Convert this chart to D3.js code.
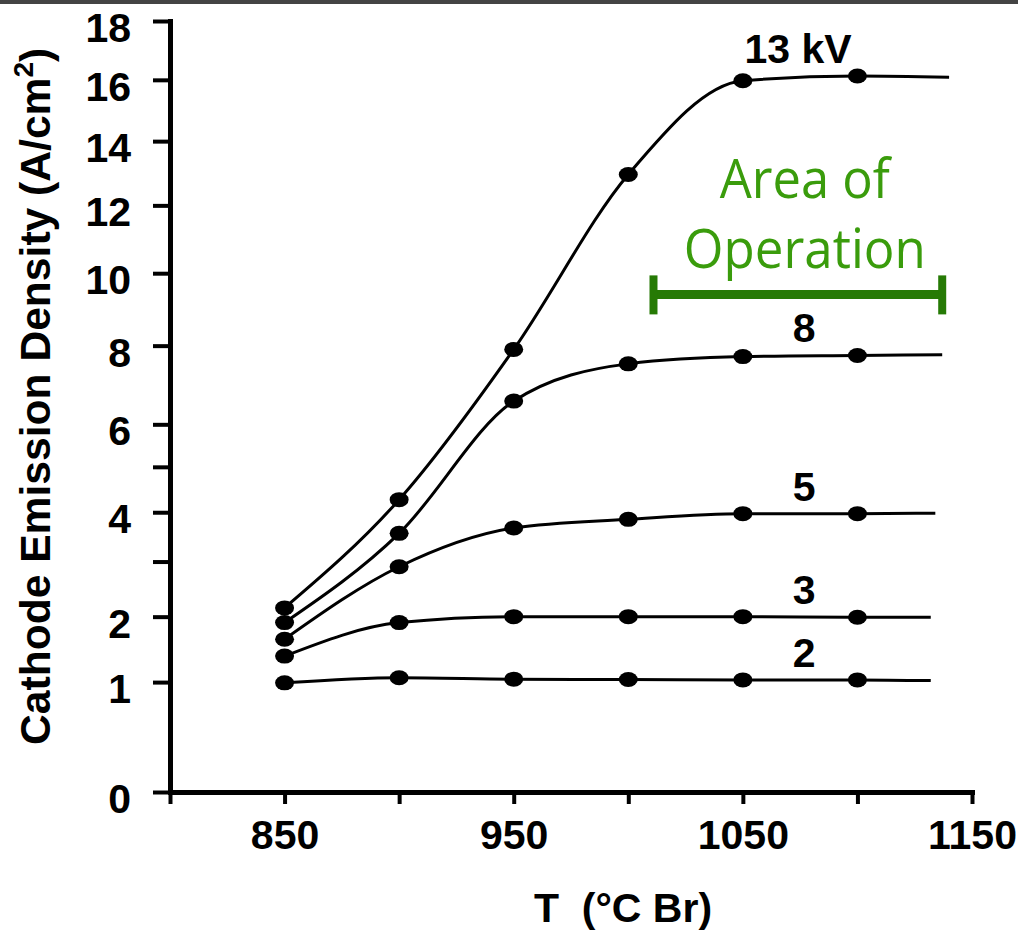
<!DOCTYPE html>
<html><head><meta charset="utf-8">
<script src="https://cdn.jsdelivr.net/npm/d3@7"></script>
<style>body{margin:0;background:#fff}svg{display:block}</style>
</head><body>
<script>
// ---- data ----
const temps = [850, 900, 950, 1000, 1050, 1100];
const seriesNames = ["13 kV", "8", "5", "3", "2"];
const v13 = [2.15, 4.27, 7.9, 12.95, 15.97, 16.13];
const v8  = [1.9, 3.56, 6.57, 7.52, 7.71, 7.74];
const v5  = [1.63, 2.9, 3.67, 3.85, 3.97, 3.97];
const v3  = [1.37, 1.9, 2.0, 2.0, 2.0, 1.99];
const v2  = [0.99, 1.06, 1.04, 1.035, 1.03, 1.03];
const lineEndT = [1140, 1137, 1134, 1132, 1132];
const lineEndV = [16.09, 7.76, 3.98, 1.99, 1.02];
const xTicks = [800, 850, 900, 950, 1000, 1050, 1100, 1150];
const xTickLabels = ["", "850", "", "950", "", "1050", "", "1150"];
const yTicks = [0, 1, 2, 3, 4, 5, 6, 8, 10, 12, 14, 16, 18];
const yTickLabels = ["0", "1", "2", "", "4", "", "6", "8", "10", "12", "14", "16", "18"];
const areaRange = [1011, 1137];
const areaLevel = 9.4;
const areaText = ["Area of", "Operation"];
const xTitle = "T  (°C Br)";
const yTitle = "Cathode Emission Density (A/cm";

const seriesValues = [v13, v8, v5, v3, v2];

// ---- layout ----
const W = 1018, H = 931;
const FONT = "Arial, 'Liberation Sans', sans-serif";
const svg = d3.select("body").append("svg").attr("width", W).attr("height", H);
svg.append("rect").attr("x", 0).attr("y", 0).attr("width", W).attr("height", 4).attr("fill", "#444");

const x = d3.scaleLinear().domain([800, 1150]).range([170, 972]);
const y = d3.scalePow().exponent(0.674).domain([0, 18]).range([792, 21]);

// axes
const xAxis = d3.axisBottom(x).tickValues(xTicks).tickSize(12).tickSizeOuter(0).tickPadding(16)
  .tickFormat((d, i) => xTickLabels[i]);
const yAxis = d3.axisLeft(y).tickValues(yTicks).tickSize(17).tickSizeOuter(0).tickPadding(22)
  .tickFormat((d, i) => yTickLabels[i]);

const gx = svg.append("g").attr("transform", "translate(0,792)").call(xAxis);
const gy = svg.append("g").attr("transform", "translate(170,0)").call(yAxis);
[gx, gy].forEach(g => {
  g.select(".domain").attr("stroke", "#000").attr("stroke-width", 5).attr("stroke-linecap", "square");
  g.selectAll(".tick line").attr("stroke", "#000").attr("stroke-width", 4);
  g.selectAll(".tick text").attr("fill", "#000").attr("font-family", FONT)
    .attr("font-weight", "bold").attr("font-size", 41);
});
gy.selectAll(".tick text").attr("dy", "0.5em");

// series lines
const line = d3.line().x(d => x(d[0])).y(d => y(d[1])).curve(d3.curveMonotoneX);
seriesValues.forEach((vals, si) => {
  const pts = temps.map((t, i) => [t, vals[i]]);
  pts.push([lineEndT[si], lineEndV[si]]);
  svg.append("path").datum(pts).attr("d", line)
    .attr("fill", "none").attr("stroke", "#000").attr("stroke-width", 3);
  svg.append("g").selectAll("ellipse").data(temps.map((t, i) => [t, vals[i]])).join("ellipse")
    .attr("cx", d => x(d[0])).attr("cy", d => y(d[1]))
    .attr("rx", 9.5).attr("ry", 7.5).attr("fill", "#000");
  // series label
  const lastV = vals[vals.length - 1];
  svg.append("text")
    .attr("x", x((temps[4] + temps[5]) / 2) + (si === 0 ? -2 : 4))
    .attr("y", y(lastV) - 13)
    .attr("text-anchor", "middle")
    .attr("font-family", FONT).attr("font-weight", "bold").attr("font-size", 41)
    .attr("fill", "#000").text(seriesNames[si]);
});

// area of operation
const green = "#267a05";
const ay = y(areaLevel);
svg.append("line").attr("x1", x(areaRange[0])).attr("x2", x(areaRange[1]))
  .attr("y1", ay).attr("y2", ay).attr("stroke", green).attr("stroke-width", 9);
areaRange.forEach(t => {
  svg.append("line").attr("x1", x(t)).attr("x2", x(t)).attr("y1", ay - 19).attr("y2", ay + 20)
    .attr("stroke", green).attr("stroke-width", 8);
});
const areaMid = (x(areaRange[0]) + x(areaRange[1])) / 2 + 7;
const areaLens = [170, 242];
areaText.forEach((s, i) => {
  svg.append("text").attr("x", areaMid).attr("y", ay - 96 + i * 70)
    .attr("text-anchor", "middle").attr("font-family", "'Open Sans', 'Noto Sans', sans-serif")
    .attr("font-size", 54).attr("fill", "#3a9c0c")
    .attr("textLength", areaLens[i]).attr("lengthAdjust", "spacingAndGlyphs")
    .text(s);
});

// titles
svg.append("text").attr("x", 623).attr("y", 922).attr("text-anchor", "middle")
  .style("white-space", "pre")
  .attr("font-family", FONT).attr("font-weight", "bold").attr("font-size", 41)
  .attr("fill", "#000").text(xTitle);

const yt = svg.append("text").attr("transform", "translate(50,745) rotate(-90)")
  .attr("text-anchor", "start")
  .attr("font-family", FONT).attr("font-weight", "bold").attr("font-size", 42.6).attr("fill", "#000");
yt.append("tspan").text(yTitle);
yt.append("tspan").attr("font-size", 28).attr("dy", -17).text("2");
yt.append("tspan").attr("dy", 17).text(")");
</script>
</body></html>
